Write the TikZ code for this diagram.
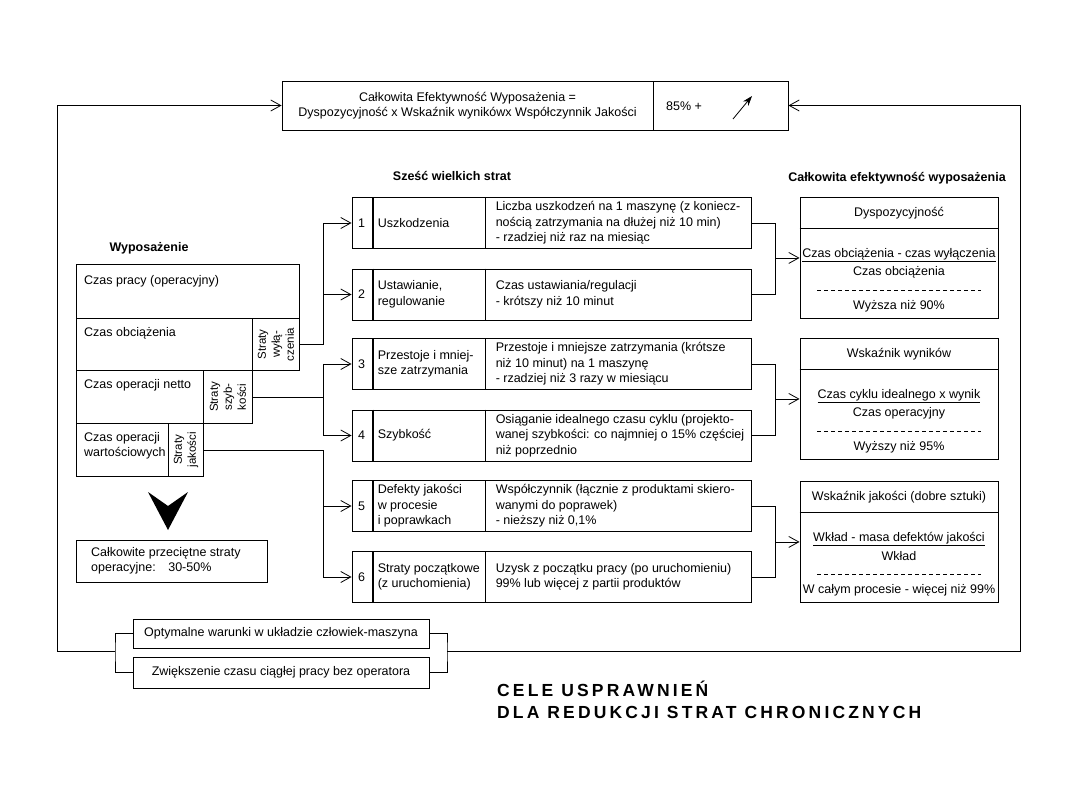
\documentclass[tikz,border=0pt]{standalone}
\usepackage{fontspec}
\setmainfont{Liberation Sans}
\usetikzlibrary{arrows.meta}
\tikzset{
  box/.style={draw, line width=0.9pt, inner sep=0pt},
  txt/.style={font=\fontsize{12.5}{15.5}\selectfont, align=left, inner sep=0pt},
  vtxt/.style={font=\fontsize{11.5}{14}\selectfont, align=center, inner sep=0pt, rotate=90},
  head/.style={font=\fontsize{12.5}{15}\selectfont\bfseries, inner sep=0pt},
  barb/.style={-{Straight Barb[length=10pt,width=11pt]}, line width=0.8pt},
  wire/.style={line width=0.8pt}
}
\begin{document}
\begin{tikzpicture}[x=1pt, y=1pt]
\useasboundingbox (0,0) rectangle (1080,-810);

\node[box, txt, align=center, minimum width=371pt, minimum height=49pt] (cee) at (467.5,-105.5) {Całkowita Efektywność Wyposażenia =\\Dyspozycyjność x Wskaźnik wynikówx Współczynnik Jakości};
\node[box, minimum width=135pt, minimum height=49pt] (ceev) at (720.5,-105.5) {};
\node[txt, anchor=west] (pct) at (666,-106) {85\% +};
\draw[line width=0.8pt, -{Stealth[length=10pt,width=7pt]}] (733,-119) -- (752,-96);

\node[head] (h6) at (452,-176) {Sześć wielkich strat};
\node[head] (heff) at (897,-178) {Całkowita efektywność wyposażenia};
\node[head] (hwyp) at (149,-248) {Wyposażenie};

% wyposazenie
\node[box, minimum width=223pt, minimum height=54pt, anchor=north west] (tp) at (76,-264) {};
\node[box, minimum width=176pt, minimum height=52pt, anchor=north west] (co) at (76,-318) {};
\node[box, minimum width=47pt, minimum height=52pt, anchor=north west] (swy) at (252,-318) {};
\node[box, minimum width=127pt, minimum height=53pt, anchor=north west] (on) at (76,-370) {};
\node[box, minimum width=49pt, minimum height=53pt, anchor=north west] (ssz) at (203,-370) {};
\node[box, minimum width=92pt, minimum height=53pt, anchor=north west] (ow) at (76,-423) {};
\node[box, minimum width=35pt, minimum height=53pt, anchor=north west] (sj) at (168,-423) {};
\node[txt, anchor=base west] (tptxt) at (84,-285) {Czas pracy (operacyjny)};
\node[txt, anchor=base west] (cotxt) at (84,-337) {Czas obciążenia};
\node[txt, anchor=base west] (ontxt) at (84,-389) {Czas operacji netto};
\node[txt, anchor=west] (owtxt) at (84,-446) {Czas operacji\\wartościowych};
\node[vtxt] (swytxt) at (swy) {Straty\\wyłą-\\czenia};
\node[vtxt] (sszttxt) at (ssz) {Straty\\szyb-\\kości};
\node[vtxt] (sjtxt) at (sj) {Straty\\jakości};

\fill (148,-492) -- (168,-530) -- (188,-492) -- (168,-506) -- cycle;
\node[box, minimum width=191pt, minimum height=42pt, anchor=north west] (tot) at (76,-540) {};
\node[txt, anchor=west] (tottxt) at (91,-561) {Całkowite przeciętne straty\\operacyjne:\quad 30-50\%};

% szesc strat
\foreach \i/\yc/\nm/\ds in {
  1/223/{Uszkodzenia}/{Liczba uszkodzeń na 1 maszynę (z koniecz-\\nością zatrzymania na dłużej niż 10 min)\\- rzadziej niż raz na miesiąc},
  2/294.5/{Ustawianie,\\regulowanie}/{Czas ustawiania/regulacji\\- krótszy niż 10 minut},
  3/364/{Przestoje i mniej-\\sze zatrzymania}/{Przestoje i mniejsze zatrzymania (krótsze\\niż 10 minut) na 1 maszynę\\- rzadziej niż 3 razy w miesiącu},
  4/435.5/{Szybkość}/{Osiąganie idealnego czasu cyklu (projekto-\\wanej szybkości: co najmniej o 15\% częściej\\niż poprzednio},
  5/506/{Defekty jakości\\w procesie\\i poprawkach}/{Współczynnik (łącznie z produktami skiero-\\wanymi do poprawek)\\- nieższy niż 0,1\%},
  6/577/{Straty początkowe\\(z uruchomienia)}/{Uzysk z początku pracy (po uruchomieniu)\\99\% lub więcej z partii produktów}}
{
  \node[box, minimum width=399pt, minimum height=51pt] (row\i) at (551.5,-\yc) {};
  \draw[line width=2pt] ([xshift=21pt]row\i.north west) -- ([xshift=21pt]row\i.south west);
  \draw[line width=0.9pt] ([xshift=134pt]row\i.north west) -- ([xshift=134pt]row\i.south west);
  \node[txt] (num\i) at ([xshift=10pt]row\i.west) {\i};
  \node[txt, anchor=west] (nm\i) at ([xshift=26pt]row\i.west) {\nm};
  \node[txt, anchor=west] (ds\i) at ([xshift=144pt]row\i.west) {\ds};
}

% calkowita efektywnosc
\foreach \k/\ty/\hh/\fn/\fd/\fr in {
  A/197/{Dyspozycyjność}/{Czas obciążenia - czas wyłączenia}/{Czas obciążenia}/{Wyższa niż 90\%},
  B/338/{Wskaźnik wyników}/{Czas cyklu idealnego x wynik}/{Czas operacyjny}/{Wyższy niż 95\%},
  C/481/{Wskaźnik jakości (dobre sztuki)}/{Wkład - masa defektów jakości}/{Wkład}/{W całym procesie - więcej niż 99\%}}
{
  \node[box, minimum width=198pt, minimum height=121pt, anchor=north] (eff\k) at (899,-\ty) {};
  \draw[line width=0.9pt] ([yshift=-31pt]eff\k.north west) -- ([yshift=-31pt]eff\k.north east);
  \node[txt] (hh\k) at ([yshift=-16pt]eff\k.north) {\hh};
  \node[txt] (fn\k) at ([yshift=-58pt]eff\k.north) {\underline{\fn}};
  \node[txt] (fd\k) at ([yshift=-75pt]eff\k.north) {\fd};
  \draw[wire, dash pattern=on 4pt off 3pt] ([xshift=-82pt,yshift=-93pt]eff\k.north) -- ([xshift=82pt,yshift=-93pt]eff\k.north);
  \node[txt] (fr\k) at ([yshift=-109pt]eff\k.north) {\fr};
}

% polaczenia
\coordinate (jL) at (323,0);
\coordinate (jR) at (775,0);
\draw[wire] (swy.east) -| (jL |- row1.west);
\draw[barb] (jL |- row1.west) -- (row1.west);
\draw[barb] (jL |- row2.west) -- (row2.west);
\draw[wire] (ssz.east) -- (jL |- ssz.east);
\draw[wire] (jL |- row3.west) -- (jL |- row4.west);
\draw[barb] (jL |- row3.west) -- (row3.west);
\draw[barb] (jL |- row4.west) -- (row4.west);
\draw[wire] (sj.east) -| (jL |- row6.west);
\draw[barb] (jL |- row5.west) -- (row5.west);
\draw[barb] (jL |- row6.west) -- (row6.west);
\draw[wire] (row1.east) -| (jR |- row2.east) -- (row2.east);
\draw[barb] (jR |- effA.west) -- (effA.west);
\draw[wire] (row3.east) -| (jR |- row4.east) -- (row4.east);
\draw[barb] (jR |- effB.west) -- (effB.west);
\draw[wire] (row5.east) -| (jR |- row6.east) -- (row6.east);
\draw[barb] (jR |- effC.west) -- (effC.west);

% sprzezenie zwrotne
\node[box, txt, minimum width=296pt, minimum height=29pt] (opt1) at (281,-633.5) {Optymalne warunki w układzie człowiek-maszyna};
\node[box, txt, minimum width=296pt, minimum height=31pt] (opt2) at (281,-672.5) {Zwiększenie czasu ciągłej pracy bez operatora};
\coordinate (bl) at (115,-651);
\coordinate (br) at (447,-651);
\coordinate (cl) at (57,-651);
\coordinate (cr) at (1020,-651);
\draw[wire] (opt1.west) -| (bl) |- (opt2.west);
\draw[wire] (opt1.east) -| (br) |- (opt2.east);
\draw[barb] (bl) -- (cl) |- (cee.west);
\draw[barb] (br) -- (cr) |- (ceev.east);

\node[anchor=west, align=left, inner sep=0pt, font=\fontsize{17.5}{22}\selectfont\bfseries\addfontfeature{LetterSpace=18}] (title) at (497,-700) {CELE USPRAWNIEŃ\\DLA REDUKCJI STRAT CHRONICZNYCH};
\end{tikzpicture}
\end{document}
